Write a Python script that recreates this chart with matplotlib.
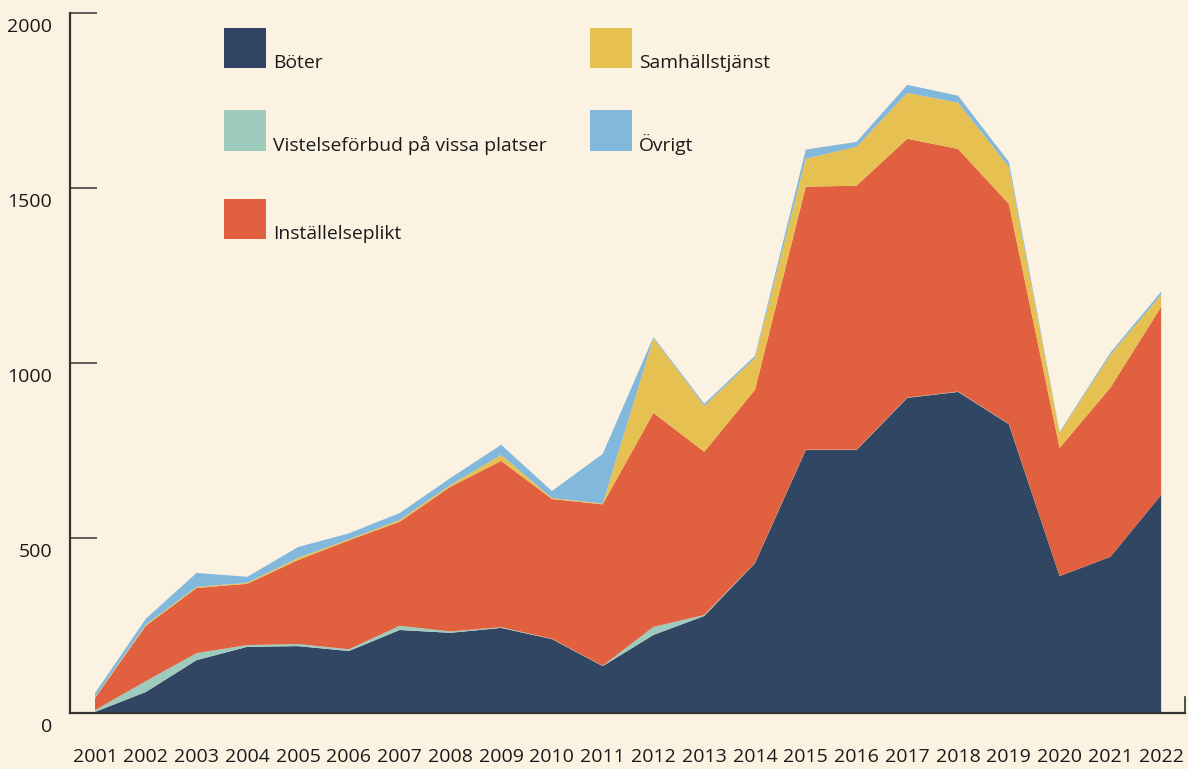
import matplotlib.pyplot as plt
import matplotlib.transforms as mtransforms
from matplotlib.patches import Rectangle

plt.rcParams['font.family'] = ['Open Sans', 'DejaVu Sans']

years = list(range(2001, 2023))

# values (antal)
boter = [3, 60, 151, 189, 191, 177, 237, 229, 243, 211, 134, 223, 277, 428,
         751, 751, 900, 917, 825, 391, 446, 623]
vistelse = [5, 31, 20, 5, 6, 5, 12, 4, 2, 1, 1, 23, 3, 1,
            1, 1, 1, 1, 1, 0, 0, 0]
installelse = [35, 158, 186, 175, 240, 311, 297, 413, 475, 399, 461, 611, 466, 494,
               751, 754, 739, 693, 628, 366, 483, 537]
samhall = [2, 3, 3, 3, 6, 3, 5, 5, 17, 3, 2, 214, 131, 91,
           80, 111, 131, 132, 106, 43, 94, 34]
ovrigt = [12, 17, 40, 17, 31, 17, 20, 20, 29, 20, 142, 3, 6, 6,
          26, 14, 23, 20, 14, 3, 6, 9]

labels = ['Böter', 'Vistelseförbud på vissa platser', 'Inställelseplikt',
          'Samhällstjänst', 'Övrigt']
colors = ['#304662', '#9DCBBE', '#E0603F', '#E6C050', '#81B8DC']
bg = '#FBF2E2'

fig = plt.figure(figsize=(11.88, 7.69), dpi=100, facecolor=bg)
ax = fig.add_axes([70 / 1188, 56 / 769, 1115 / 1188, 700.3 / 769])
ax.set_facecolor(bg)

ax.stackplot(years, boter, vistelse, installelse, samhall, ovrigt,
             colors=colors, linewidth=0)

ax.set_xlim(2000.507, 2022.47)
ax.set_ylim(0, 2000)

ax.spines['top'].set_visible(False)
ax.spines['left'].set_color('#333333')
ax.spines['left'].set_linewidth(1.6)
ax.spines['bottom'].set_color('#333333')
ax.spines['bottom'].set_linewidth(1.6)
ax.spines['right'].set_color('#333333')
ax.spines['right'].set_linewidth(1.2)
ax.spines['right'].set_bounds(0, 45)

ax.set_yticks([0, 500, 1000, 1500, 2000])
ax.set_yticklabels(['0', '500', '1000', '1500', '2000'])
ax.tick_params(axis='y', direction='in', length=19.4, width=1.1,
               color='#333333', pad=13, labelsize=14, labelcolor='#1a1a1a')
ax.set_xticks(years)
ax.set_xticklabels([str(y) for y in years])
ax.tick_params(axis='x', length=0, pad=25, labelsize=14, labelcolor='#1a1a1a')

off = mtransforms.ScaledTranslation(0, -12 / 100, fig.dpi_scale_trans)
for lab in ax.get_yticklabels():
    lab.set_transform(lab.get_transform() + off)

# legend, drawn by hand in figure pixels (left, top, bottom)
pos = [(224, 28, 68), (224, 110, 151), (224, 199, 239), (590, 28, 68), (590, 110, 151)]
for (px, top, bot), lab, col in zip(pos, labels, colors):
    fig.patches.append(Rectangle((px / 1188, 1 - bot / 769), 42 / 1188, (bot - top) / 769,
                                 transform=fig.transFigure, color=col, lw=0))
    fig.text((px + 49) / 1188, 1 - bot / 769, lab, fontsize=13.9,
             color='#1a1a1a', va='baseline', ha='left')

fig.savefig('out.png', dpi=100, facecolor=bg)
